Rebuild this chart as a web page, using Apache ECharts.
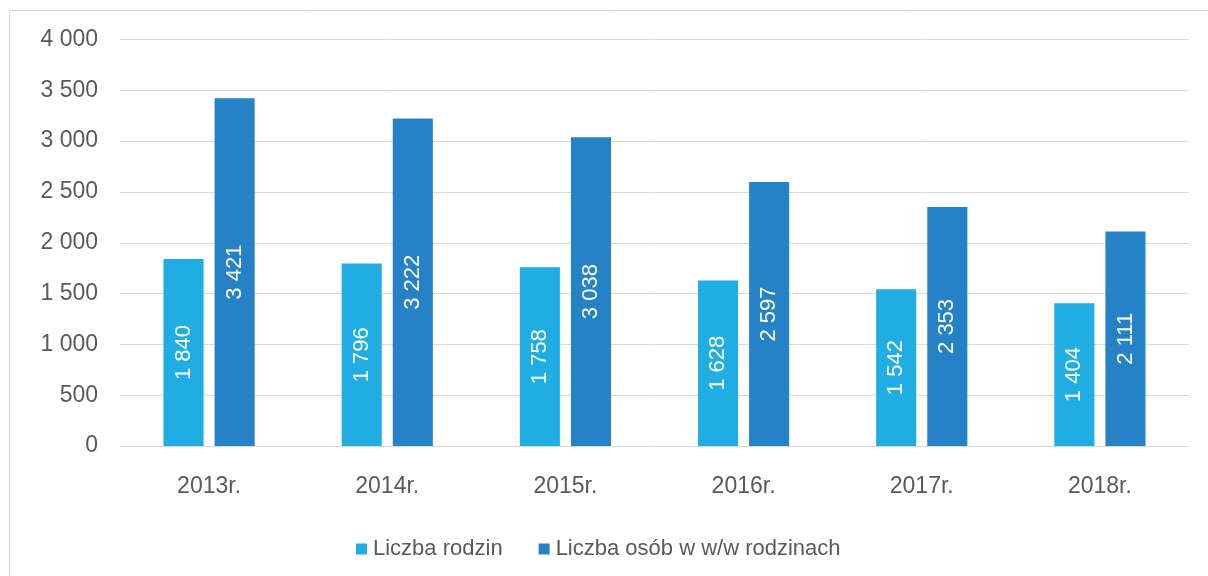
<!DOCTYPE html>
<html>
<head>
<meta charset="utf-8">
<script src="https://cdn.jsdelivr.net/npm/echarts@6/dist/echarts.min.js"></script>
<style>
html,body{margin:0;padding:0;background:#fff;}
#chart{width:1208px;height:576px;}
</style>
</head>
<body>
<div id="chart"></div>
<script>
const categories = ['2013r.', '2014r.', '2015r.', '2016r.', '2017r.', '2018r.'];
const seriesNames = ['Liczba rodzin', 'Liczba osób w w/w rodzinach'];
const rodziny = [1840, 1796, 1758, 1628, 1542, 1404];
const osoby = [3421, 3222, 3038, 2597, 2353, 2111];
const yMin = 0, yMax = 4000, yInterval = 500;

function fmt(v) {
  return String(v).replace(/\B(?=(\d{3})+(?!\d))/g, ' ');
}

const chart = echarts.init(document.getElementById('chart'), null, {renderer: 'canvas'});
const font = '"Liberation Sans", Arial, sans-serif';
const labelStyle = {
  show: true,
  position: 'inside',
  rotate: 90,
  color: '#ffffff',
  fontSize: 22,
  fontFamily: font,
  formatter: p => fmt(p.value)
};
chart.setOption({
  animation: false,
  backgroundColor: '#ffffff',
  textStyle: {fontFamily: font},
  graphic: [{
    type: 'rect',
    shape: {x: 9.5, y: 10.5, width: 1300, height: 700},
    style: {fill: 'none', stroke: '#D9D9D9', lineWidth: 1},
    silent: true,
    z: -10
  }],
  grid: {left: 120, right: 19, top: 39.5, bottom: 130},
  legend: {
    data: seriesNames,
    left: 351,
    top: 533,
    itemWidth: 11,
    itemHeight: 11,
    itemGap: 36,
    icon: 'rect',
    textStyle: {color: '#595959', fontSize: 22, fontFamily: font, padding: [0, 0, 0, 1]}
  },
  xAxis: {
    type: 'category',
    data: categories,
    axisLine: {show: true, lineStyle: {color: '#D9D9D9', width: 1}},
    axisTick: {show: false},
    axisLabel: {color: '#595959', fontSize: 23, fontFamily: font, margin: 29}
  },
  yAxis: {
    type: 'value',
    min: yMin,
    max: yMax,
    interval: yInterval,
    axisLine: {show: false},
    axisTick: {show: false},
    splitLine: {lineStyle: {color: '#D9D9D9', width: 1}},
    axisLabel: {color: '#595959', fontSize: 23, fontFamily: font, margin: 22, formatter: v => fmt(v)}
  },
  series: [
    {
      name: seriesNames[0],
      type: 'bar',
      data: rodziny,
      barWidth: '22.5%',
      barGap: '27.5%',
      itemStyle: {color: '#1FADE3'},
      label: labelStyle
    },
    {
      name: seriesNames[1],
      type: 'bar',
      data: osoby,
      barWidth: '22.5%',
      itemStyle: {color: '#2682C6'},
      label: labelStyle
    }
  ]
});
</script>
</body>
</html>
